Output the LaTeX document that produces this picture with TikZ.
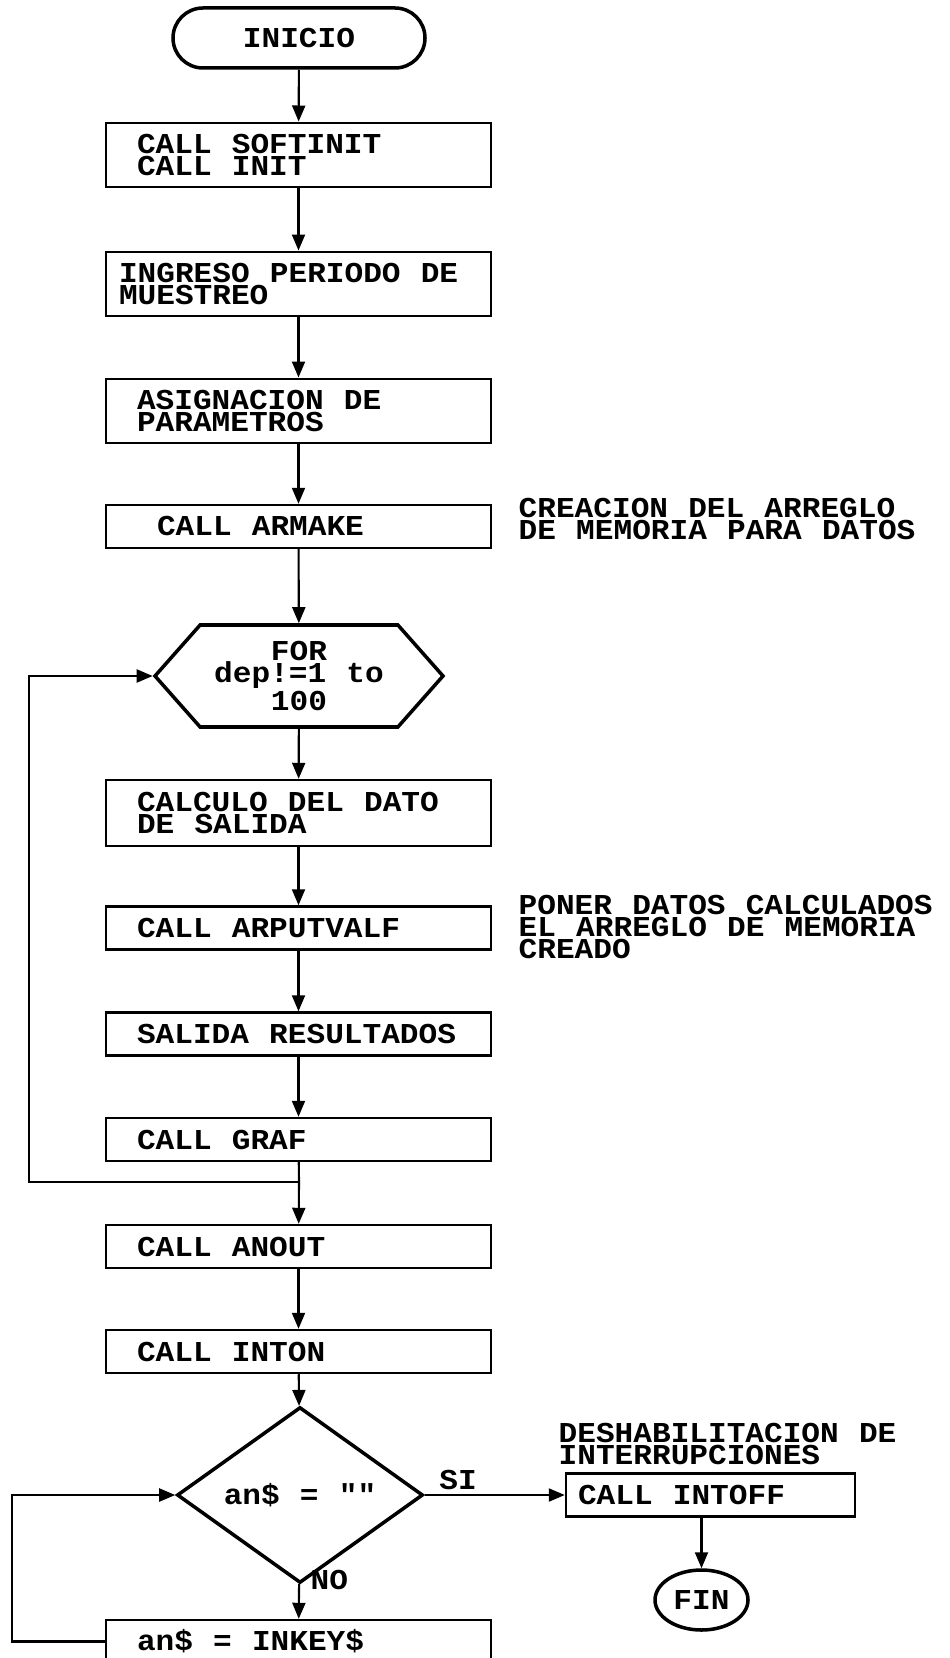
\documentclass[tikz,border=0pt]{standalone}
\usepackage{fontspec}
\newfontfamily\dotfont[FakeStretch=1.08, WordSpace={1.08,0,0}]{Liberation Mono}
\newcommand{\dotsize}{\fontsize{8.2pt}{6.2pt}\selectfont}
\usetikzlibrary{arrows.meta, positioning, shapes.geometric, shapes.misc, shapes.symbols}

\begin{document}
\begin{tikzpicture}[
    font=\dotfont\bfseries\dotsize,
    box/.style={
        rectangle,
        draw,
        line width=.7pt,
        minimum width=3.85cm,
        minimum height=.43cm,
        inner xsep=.31cm,
        inner ysep=0pt,
        text width=3.23cm,
        align=flush left
    },
    twobox/.style={
        box,
        minimum height=.645cm
    },
    terminal/.style={
        rounded rectangle,
        draw,
        line width=1pt,
        minimum width=2.52cm,
        minimum height=.60cm,
        inner sep=0pt
    },
    loophex/.style={
        signal,
        signal to=east and west,
        signal pointer angle=97,
        draw,
        line width=1pt,
        minimum width=2.88cm,
        minimum height=1.02cm,
        inner sep=0pt,
        align=center
    },
    decision/.style={
        diamond,
        draw,
        line width=1pt,
        minimum width=2.46cm,
        minimum height=1.38cm,
        inner sep=0pt
    },
    endpoint/.style={
        ellipse,
        draw,
        line width=1pt,
        minimum width=.93cm,
        minimum height=.60cm,
        inner sep=0pt
    },
    note/.style={
        anchor=west,
        inner sep=0pt,
        align=left
    },
    flow/.style={
        -{Triangle[width=.13cm, length=.16cm]},
        line width=.6pt
    },
    plain/.style={
        line width=.6pt
    }
]

\useasboundingbox (0,0) rectangle (9.49,-16.58);

% ------------------------------------------------
% Main column
% ------------------------------------------------
\node[terminal] (inicio) at (2.99,-0.38) {INICIO};
\node[twobox] (softinit) at (2.985,-1.55) {CALL SOFTINIT\\CALL INIT};
\node[twobox, inner xsep=.13cm, text width=3.59cm] (ingreso) at (2.985,-2.84) {INGRESO PERIODO DE\\MUESTREO};
\node[twobox] (asign) at (2.985,-4.11) {ASIGNACION DE\\PARAMETROS};
\node[box, inner xsep=.51cm, text width=2.83cm] (armake) at (2.985,-5.265) {CALL ARMAKE};

\node[loophex] (forloop) at (2.99,-6.76) {FOR\\dep!=1 to\\100};

\node[twobox, minimum height=.66cm] (calculo) at (2.985,-8.13) {CALCULO DEL DATO\\DE SALIDA};
\node[box] (arput) at (2.985,-9.28) {CALL ARPUTVALF};
\node[box] (salida) at (2.985,-10.34) {SALIDA RESULTADOS};
\node[box] (graf) at (2.985,-11.395) {CALL GRAF};

\node[box] (anout) at (2.985,-12.465) {CALL ANOUT};
\node[box] (inton) at (2.985,-13.515) {CALL INTON};

\node[decision] (ask) at (3.00,-14.95) {an\$ = ""};
\node[box, minimum width=2.89cm, inner xsep=.12cm, text width=2.65cm] (intoff) at (7.105,-14.95) {CALL INTOFF};
\node[endpoint] (fin) at (7.015,-16.00) {FIN};

\node[box] (inkey) at (2.985,-16.415) {an\$ = INKEY\$};

% ------------------------------------------------
% Side notes
% ------------------------------------------------
\node[note] (note1) at (5.18,-5.19) {CREACION DEL ARREGLO\\DE MEMORIA PARA DATOS};
\node[note] (note2) at (5.18,-9.27) {PONER DATOS CALCULADOS\\EL ARREGLO DE MEMORIA\\CREADO};
\node[note] (note3) at (5.58,-14.44) {DESHABILITACION DE\\INTERRUPCIONES};

\node (si) at (4.58,-14.80) {SI};
\node[anchor=west, inner sep=0pt] (no) at (3.10,-15.80) {NO};

% ------------------------------------------------
% Straight flow
% ------------------------------------------------
\draw[flow] (inicio) -- (softinit);
\draw[flow] (softinit) -- (ingreso);
\draw[flow] (ingreso) -- (asign);
\draw[flow] (asign) -- (armake);
\draw[flow] (armake) -- (forloop);
\draw[flow] (forloop) -- (calculo);
\draw[flow] (calculo) -- (arput);
\draw[flow] (arput) -- (salida);
\draw[flow] (salida) -- (graf);
\draw[flow] (anout) -- (inton);
\draw[flow] (inton) -- (ask);
\draw[flow] (ask) -- (inkey);
\draw[flow] (ask) -- (intoff);
\draw[flow] (fin |- intoff.south) -- (fin);

% ------------------------------------------------
% Loops
% ------------------------------------------------
\coordinate (join) at (2.99,-11.82);
\coordinate (loopA) at (0.29,-11.82);
\coordinate (loopB) at (0.12,-16.40);

\draw[plain] (graf) -- (join);
\draw[flow] (join) -- (anout);
\draw[flow] (join) -- (loopA) |- (forloop.west);
\draw[flow] (inkey.west) -- (inkey.west -| loopB) |- (ask.west);

\end{tikzpicture}
\end{document}
